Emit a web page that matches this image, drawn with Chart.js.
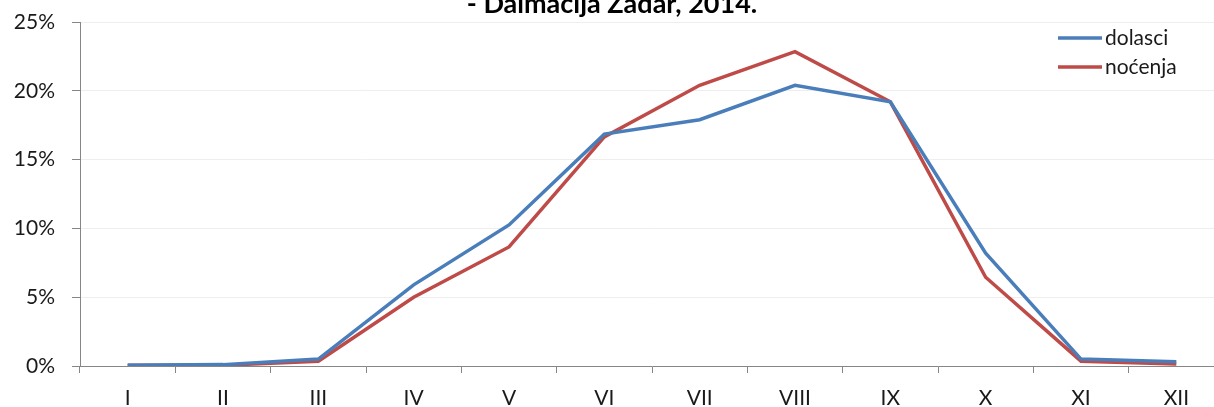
<!DOCTYPE html>
<html>
<head>
<meta charset="utf-8">
<script src="https://cdn.jsdelivr.net/npm/chart.js@4/dist/chart.umd.min.js"></script>
<style>
  html, body { margin: 0; padding: 0; background: #fff; overflow: hidden; width: 1214px; height: 407px; }
  #graf { position: absolute; left: 0; top: -20px; }
</style>
</head>
<body>
<canvas id="graf" width="1240" height="427"></canvas>
<script>
// podaci procitani s grafa (udio mjeseca u godini, %)
const mjeseci = ['I', 'II', 'III', 'IV', 'V', 'VI', 'VII', 'VIII', 'IX', 'X', 'XI', 'XII']
const dolasci = [0.05, 0.1, 0.5, 5.9, 10.25, 16.85, 17.9, 20.4, 19.2, 8.2, 0.5, 0.3]
const nocenja = [0.05, 0.05, 0.35, 5.0, 8.65, 16.65, 20.4, 22.85, 19.2, 6.45, 0.35, 0.15]
const naslov = '- Dalmacija Zadar, 2014.'

const font = 'Lato, "Open Sans", sans-serif'

// legenda unutar podrucja grafa, gore desno
const legendaPlugin = {
    id: 'legendaUnutra',
    afterDraw(chart) {
        const ctx = chart.ctx
        const area = chart.chartArea
        const x0 = area.right - 166
        ctx.save()
        chart.data.datasets.forEach((ds, i) => {
            const y = area.top + 16 + i * 29
            ctx.strokeStyle = ds.borderColor
            ctx.lineWidth = 3.5
            ctx.beginPath()
            ctx.moveTo(x0, y)
            ctx.lineTo(x0 + 44, y)
            ctx.stroke()
            ctx.fillStyle = '#1a1a1a'
            ctx.font = '21px ' + font
            ctx.textBaseline = 'middle'
            ctx.textAlign = 'left'
            ctx.fillText(ds.label, x0 + 47, y)
        })
        ctx.restore()
    }
}

const ctx = document.getElementById('graf')

new Chart(ctx, {
    type: 'line',
    data: {
        labels: mjeseci,
        datasets: [{
            label: 'dolasci',
            data: dolasci,
            borderColor: '#4A7EBB',
            backgroundColor: '#4A7EBB',
            borderWidth: 3.5,
            pointRadius: 0,
            tension: 0
        }, {
            label: 'noćenja',
            data: nocenja,
            borderColor: '#BE4B48',
            backgroundColor: '#BE4B48',
            borderWidth: 3.5,
            pointRadius: 0,
            tension: 0
        }]
    },
    options: {
        responsive: false,
        devicePixelRatio: 1,
        animation: false,
        layout: { padding: { right: 16 } },
        plugins: {
            legend: { display: false },
            tooltip: { enabled: false },
            title: {
                display: true,
                text: naslov,
                color: '#000',
                font: { family: font, size: 27, weight: 'bold' },
                padding: { top: 8, bottom: 1.6 }
            }
        },
        scales: {
            x: {
                offset: true,
                afterFit: (s) => { s.height = 41 },
                grid: {
                    offset: true,
                    drawOnChartArea: false,
                    tickLength: 7,
                    tickColor: '#868686'
                },
                border: { color: '#868686', width: 1 },
                ticks: {
                    color: '#1a1a1a',
                    font: { family: font, size: 21 },
                    padding: 13,
                    maxRotation: 0,
                    autoSkip: false
                }
            },
            y: {
                min: 0,
                max: 25,
                afterFit: (s) => { s.width = 80 },
                grid: {
                    color: '#eeeeee',
                    tickLength: 8,
                    tickColor: '#868686'
                },
                border: { color: '#868686', width: 1 },
                ticks: {
                    stepSize: 5,
                    color: '#1a1a1a',
                    font: { family: font, size: 21 },
                    padding: 17,
                    callback: (v) => v + '%'
                }
            }
        }
    },
    plugins: [legendaPlugin]
})
</script>
</body>
</html>
